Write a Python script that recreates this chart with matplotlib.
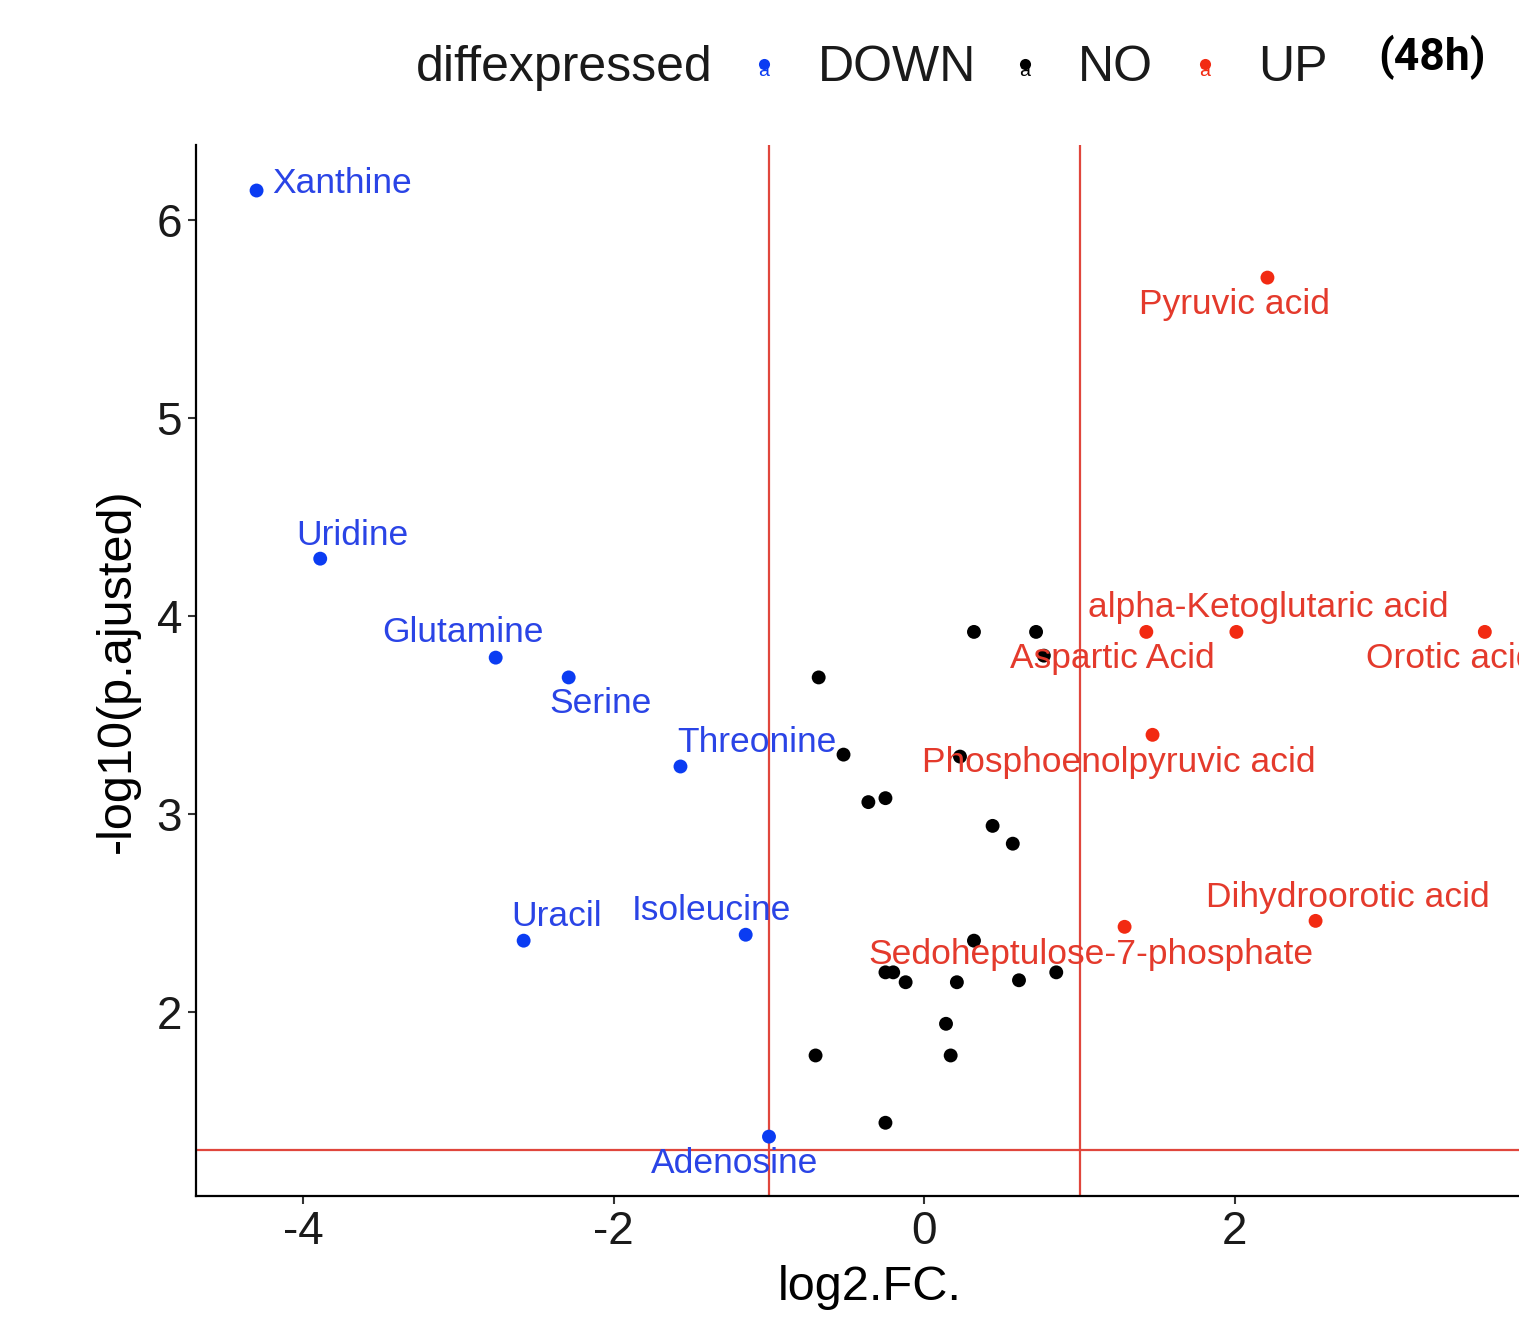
import matplotlib
matplotlib.use("Agg")
import matplotlib.pyplot as plt

plt.rcParams['font.family'] = ['Liberation Sans', 'DejaVu Sans']
plt.rcParams['axes.unicode_minus'] = False

# ---- data ----
down_names = ["Xanthine", "Uridine", "Glutamine", "Serine", "Threonine",
              "Uracil", "Isoleucine", "Adenosine"]
down_fc = [-4.30, -3.89, -2.76, -2.29, -1.57, -2.58, -1.15, -1.00]
down_p = [6.15, 4.29, 3.79, 3.69, 3.24, 2.36, 2.39, 1.37]

up_names = ["Pyruvic acid", "Aspartic Acid", "alpha-Ketoglutaric acid", "Orotic acid",
            "Phosphoenolpyruvic acid", "Dihydroorotic acid", "Sedoheptulose-7-phosphate"]
up_fc = [2.21, 1.43, 2.01, 3.61, 1.47, 2.52, 1.29]
up_p = [5.71, 3.92, 3.92, 3.92, 3.40, 2.46, 2.43]

no_fc = [0.32, 0.72, 0.77, -0.68, -0.52, 0.23, -0.36, -0.25, 0.44, 0.57,
         0.32, -0.25, -0.20, -0.12, 0.21, 0.61, 0.85, 0.14, 0.17, -0.70, -0.25]
no_p = [3.92, 3.92, 3.80, 3.69, 3.30, 3.29, 3.06, 3.08, 2.94, 2.85,
        2.36, 2.20, 2.20, 2.15, 2.15, 2.16, 2.20, 1.94, 1.78, 1.78, 1.44]

fc_threshold = [-1.0, 1.0]
p_threshold = 1.30103

x_ticks = [-4, -2, 0, 2]
y_ticks = [2, 3, 4, 5, 6]

# ---- layout / style ----
BLUE_PT = "#0b3cf2"
RED_PT = "#f22a12"
BLUE_TX = "#2a44e6"
RED_TX = "#e43a2c"
LINE_RED = "#e0463c"

# label offsets in pixels (dx, dy, ha)
label_off = {
    "Xanthine": (16, 7, 'left'),
    "Uridine": (32, 23, 'center'),
    "Glutamine": (-33, 25, 'center'),
    "Serine": (32, -26, 'center'),
    "Threonine": (76, 24, 'center'),
    "Uracil": (33, 24, 'center'),
    "Isoleucine": (-34, 24, 'center'),
    "Adenosine": (-34, -27, 'center'),
    "Pyruvic acid": (-33, -27, 'center'),
    "Aspartic Acid": (-34, -27, 'center'),
    "alpha-Ketoglutaric acid": (32, 24, 'center'),
    "Orotic acid": (-119, -27, 'left'),
    "Phosphoenolpyruvic acid": (-34, -28, 'center'),
    "Dihydroorotic acid": (32, 23, 'center'),
    "Sedoheptulose-7-phosphate": (-34, -28, 'center'),
}

W, H = 1519, 1322
fig = plt.figure(figsize=(W / 100, H / 100), dpi=100)
ax = fig.add_axes([196 / W, 1 - 1196 / H, 1 - 196 / W, (1196 - 145) / H])

ax.set_xlim(-4.69, 3.83)
ax.set_ylim(1.07, 6.38)

for v in fc_threshold:
    ax.axvline(v, color=LINE_RED, lw=1.6, zorder=1)
ax.axhline(p_threshold, color=LINE_RED, lw=1.6, zorder=1)

ax.scatter(no_fc, no_p, s=100, color="black", edgecolors='none', zorder=2)
ax.scatter(down_fc, down_p, s=100, color=BLUE_PT, edgecolors='none', zorder=2)
ax.scatter(up_fc, up_p, s=100, color=RED_PT, edgecolors='none', zorder=2)

for names, xs, ys, col in [(down_names, down_fc, down_p, BLUE_TX),
                           (up_names, up_fc, up_p, RED_TX)]:
    for n, x, y in zip(names, xs, ys):
        dx, dy, ha = label_off[n]
        ax.annotate(n, (x, y), xytext=(dx, dy), textcoords='offset pixels',
                    ha=ha, va='center', fontsize=25.5, color=col, zorder=3,
                    annotation_clip=False)

for s in ['top', 'right']:
    ax.spines[s].set_visible(False)
for s in ['left', 'bottom']:
    ax.spines[s].set_linewidth(1.6)
    ax.spines[s].set_color('black')

ax.set_xticks(x_ticks)
ax.set_xticklabels([str(t) for t in x_ticks])
ax.set_yticks(y_ticks)
ax.set_yticklabels([str(t) for t in y_ticks])
ax.tick_params(axis='both', labelsize=33, length=6, width=1.5, color='#333333',
               labelcolor='#1a1a1a', pad=4)

ax.set_xlabel("log2.FC.", fontsize=35, labelpad=8)
ax.xaxis.label.set_x((870 - 196) / (W - 196))
ax.set_ylabel("-log10(p.ajusted)", fontsize=35, labelpad=12)

# ---- legend (ggplot style at top) ----
fig.text(416 / W, 1 - 68 / H, "diffexpressed", fontsize=36, va='center', ha='left', color='#1a1a1a')
leg_items = [("DOWN", BLUE_PT, 764, 818), ("NO", "black", 1025, 1078), ("UP", RED_PT, 1205, 1258)]
for lab, col, kx, tx in leg_items:
    fig.text(kx / W, 1 - 72 / H, "a", fontsize=14, ha='center', va='center', color=col)
    fig.add_artist(plt.Line2D([kx / W], [1 - 64 / H], marker='o', markersize=8,
                              color=col, markeredgewidth=0, transform=fig.transFigure))
    fig.text(tx / W, 1 - 68 / H, lab, fontsize=36, va='center', ha='left', color='#1a1a1a')

fig.text(1432 / W, 1 - 57 / H, "(48h)", fontsize=32, fontweight='bold', family='Roboto',
         ha='center', va='center', color='black')

fig.savefig("out.png", dpi=100)
